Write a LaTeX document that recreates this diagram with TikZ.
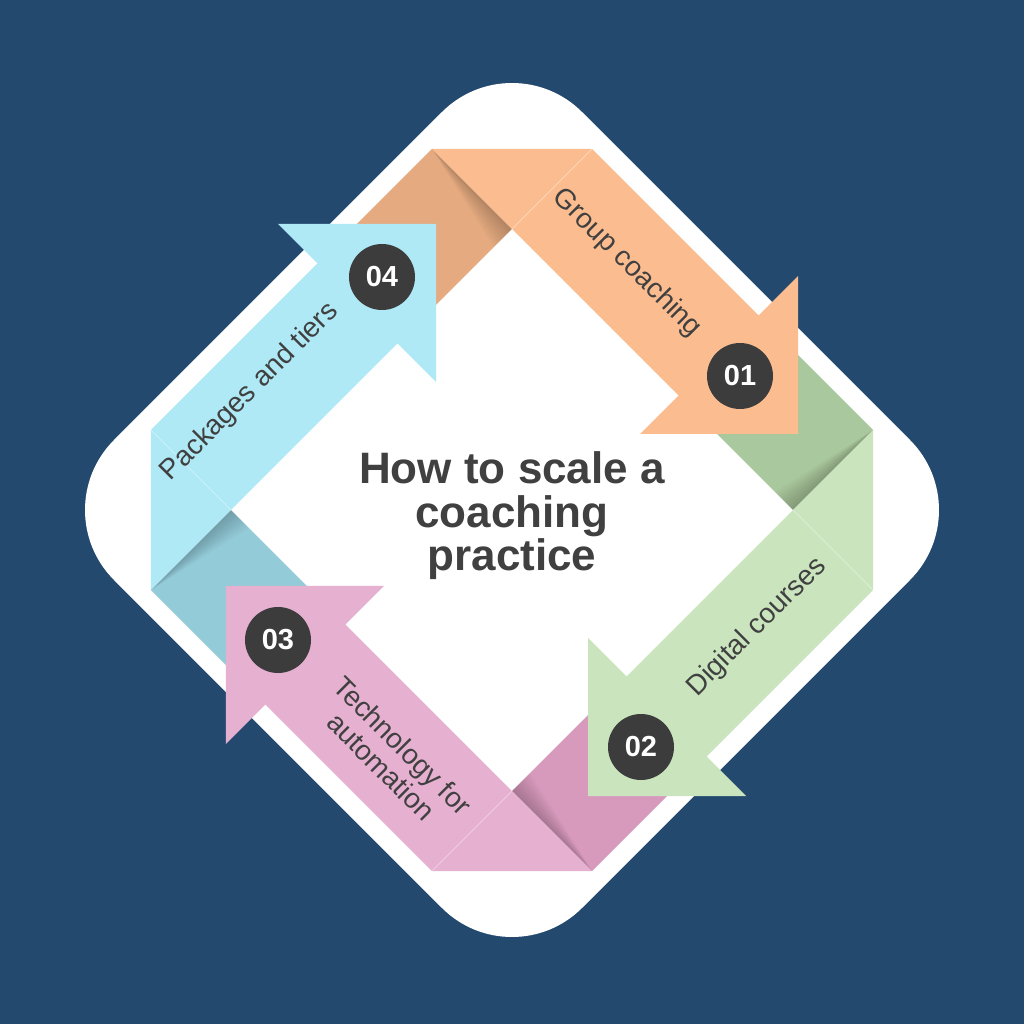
\documentclass[tikz,border=0pt]{standalone}
\usepackage{fontspec}
\setmainfont{Liberation Sans}

\definecolor{navy}{HTML}{24496F}
\definecolor{orangeL}{HTML}{FBBD8F}
\definecolor{orangeD}{HTML}{E5AA80}
\definecolor{greenL}{HTML}{CAE5BE}
\definecolor{greenD}{HTML}{A9C89D}
\definecolor{pinkL}{HTML}{E6B0D0}
\definecolor{pinkD}{HTML}{D79ABD}
\definecolor{blueL}{HTML}{AEE9F5}
\definecolor{blueD}{HTML}{94CBD8}
\definecolor{numgray}{HTML}{3C3C3C}
\definecolor{txtgray}{HTML}{404040}

\begin{document}
\begin{tikzpicture}[x=1pt, y=1pt,
    num/.style={circle, fill=numgray, text=white, minimum size=66pt, inner sep=0pt,
      font=\fontsize{29}{29}\selectfont\bfseries},
    lab/.style={text=txtgray, font=\fontsize{28}{30}\selectfont, align=center, inner sep=0pt},
    title/.style={text=txtgray, font=\fontsize{44}{43.5}\selectfont\bfseries, align=center}]

  \fill[navy] (-512,-514) rectangle (512,510);
  \fill[white, rounded corners=99pt] (234,234) -- (468,0) -- (0,-468) -- (-468,0) -- (0,468) -- cycle;

  % folded tails, they go under the next head
  \foreach \ang/\col in {0/orangeD, -90/greenD, 180/pinkD, 90/blueD} {
    \begin{scope}[rotate=\ang]
      \coordinate (A) at (-80,361);
      \coordinate (C) at (0,281);
      \fill[\col] (A) -- (C) -- ++(-100,-100) -- ++(-80,80) -- cycle;
      \foreach \d in {2,4,...,18}
        \fill[black, opacity=0.022] (A) -- (C) -- ++(-\d,-\d) -- cycle;
    \end{scope}
  }

  % the four arrows
  \foreach \ang/\col in {0/orangeL, -90/greenL, 180/pinkL, 90/blueL} {
    \begin{scope}[rotate=\ang]
      \coordinate (A) at (-80,361);
      \coordinate (B) at (80,361);
      \coordinate (C) at (0,281);
      \fill[\col] (A) -- (B) -- (246.5,194.5) -- (286,234) -- (286,76)
        -- (128,76) -- (166.5,114.5) -- (C) -- cycle;
      \draw[white, opacity=0.35, line width=0.8pt] (C) -- (B);
    \end{scope}
  }

  \node[num] (n1) at (228,134) {01};
  \node[num] (n2) at (129,-237) {02};
  \node[num] (n3) at (-234,-130) {03};
  \node[num] (n4) at (-130,233) {04};

  \node[lab, rotate=-45] (l1) at (115,247) {Group coaching};
  \node[lab, rotate=45] (l2) at (245,-117) {Digital courses};
  \node[lab, rotate=-45] (l3) at (-120,-246) {Technology for\\automation};
  \node[lab, rotate=45] (l4) at (-262,118) {Packages and tiers};

  \node[title] (title) at (0,-6) {How to scale a\\coaching\\practice};
\end{tikzpicture}
\end{document}
